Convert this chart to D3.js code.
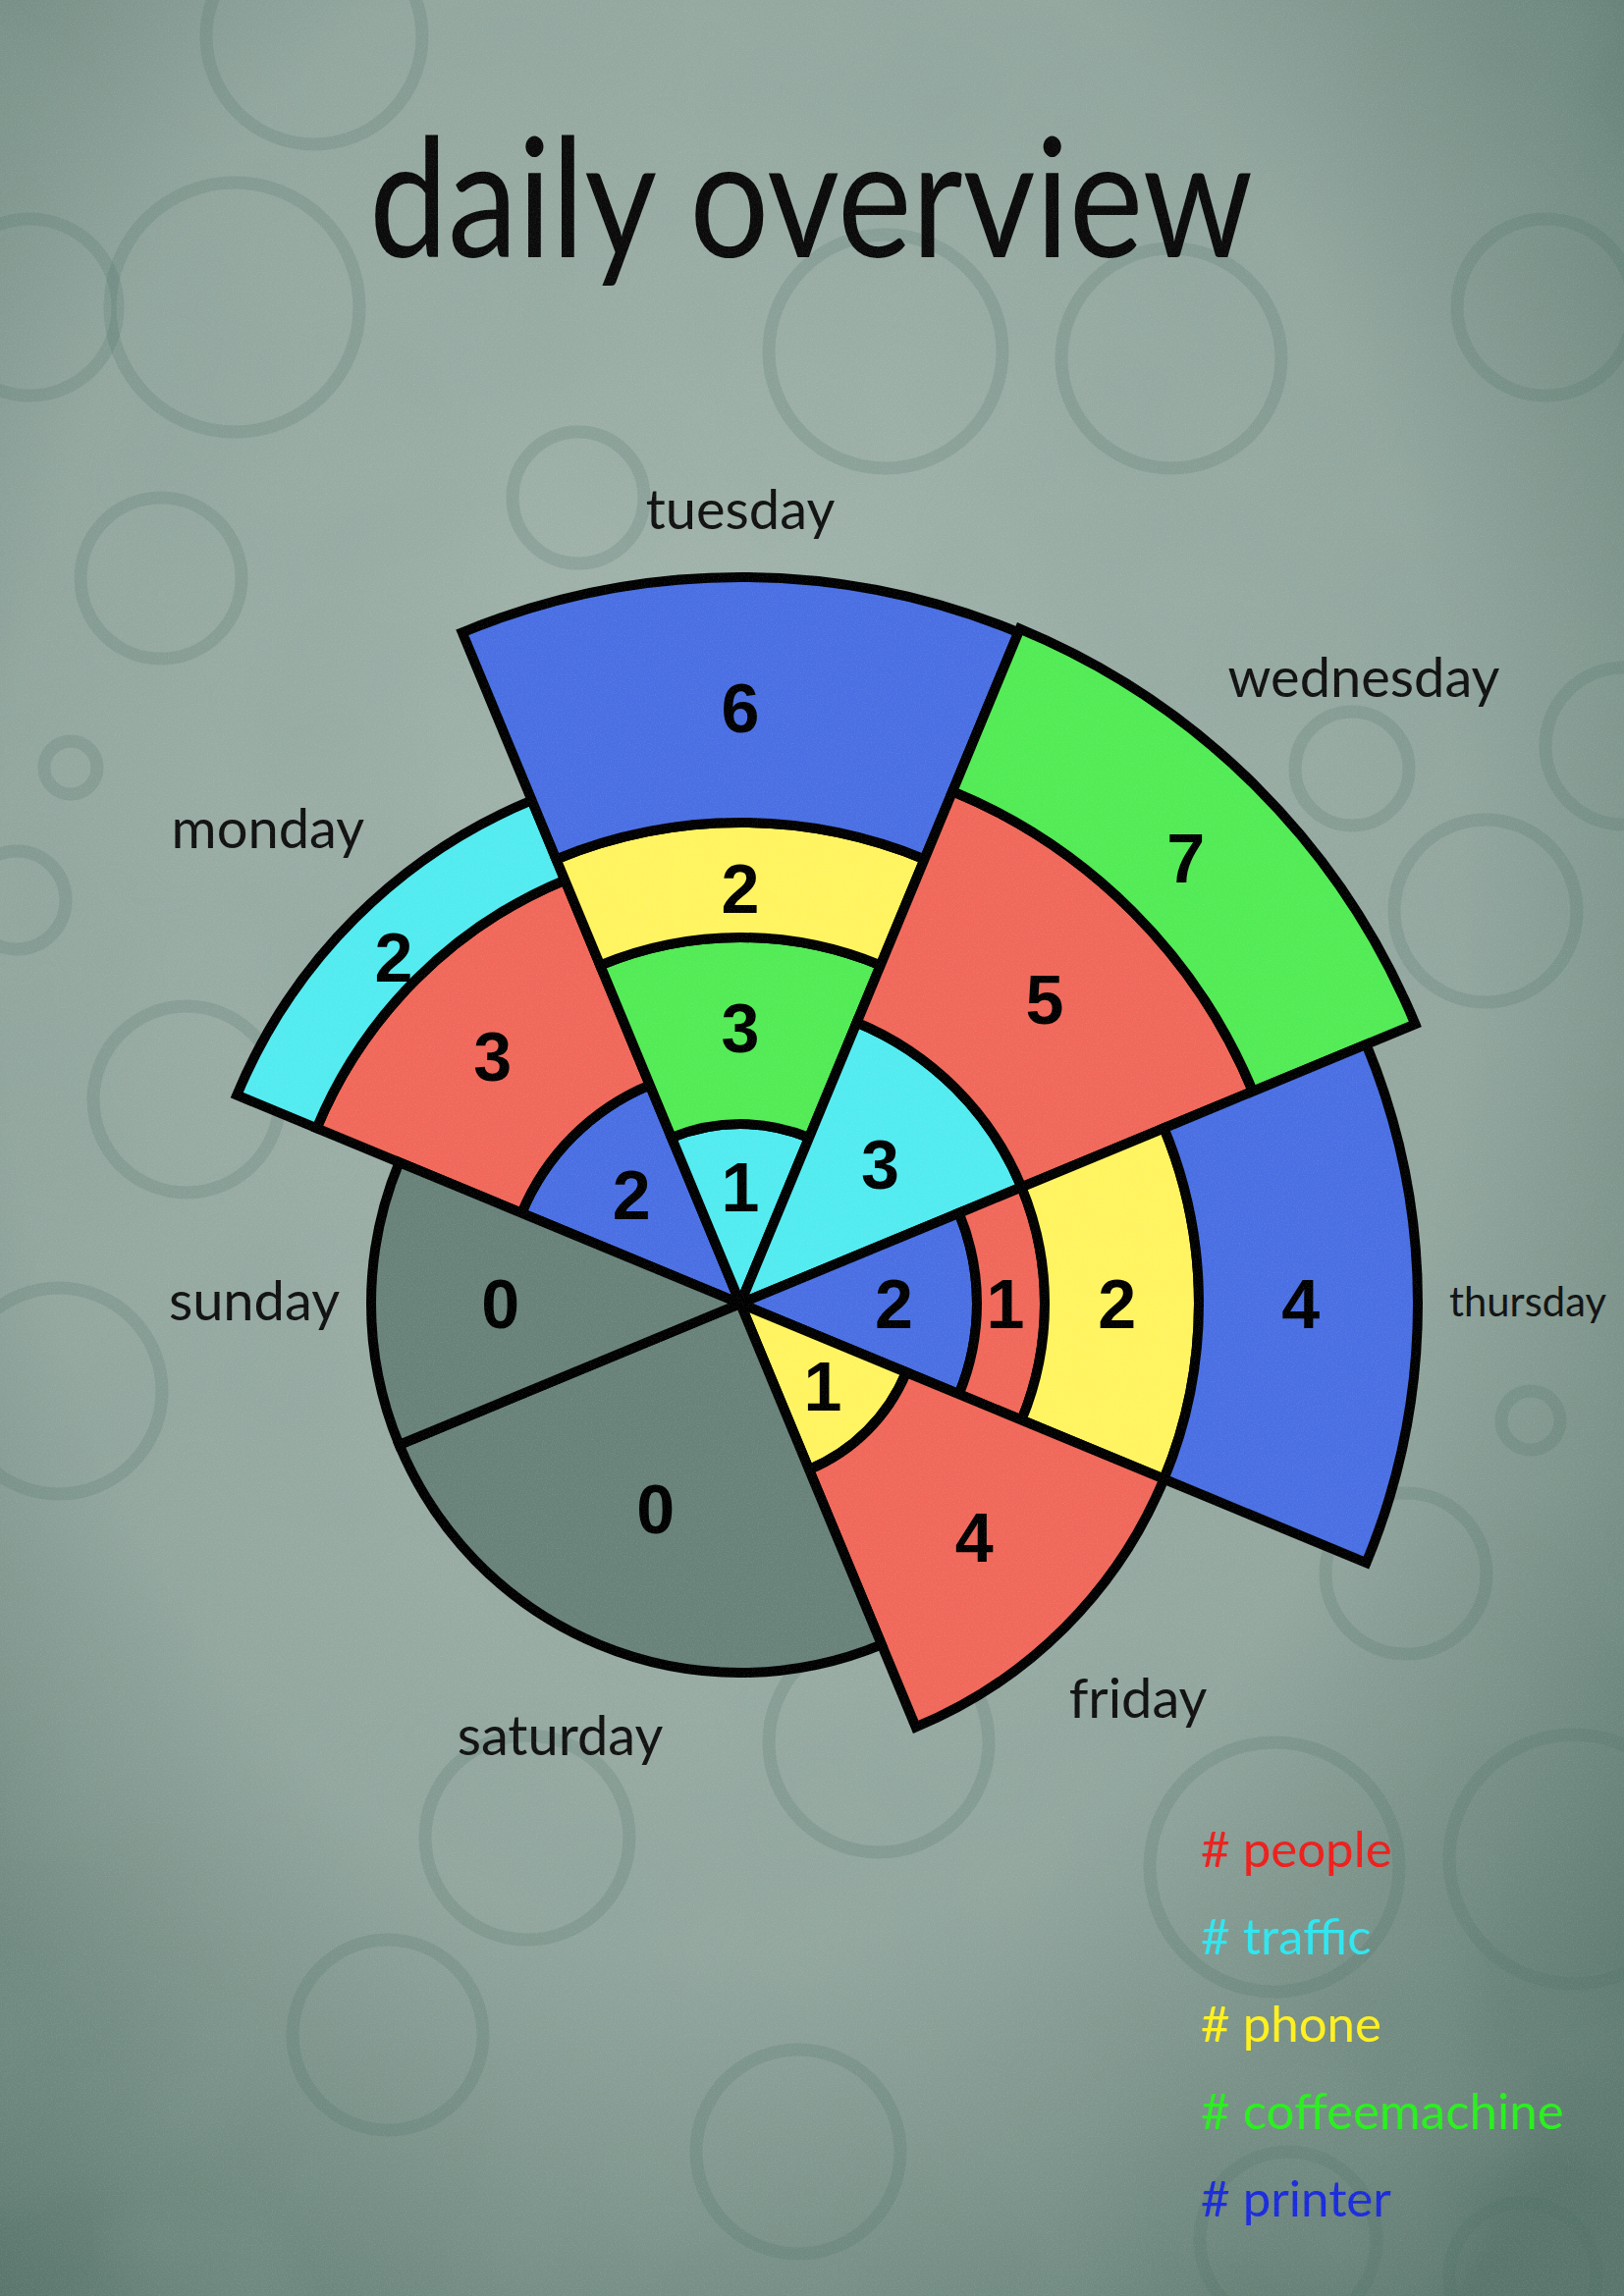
<!DOCTYPE html>
<html>
<head>
<meta charset="utf-8">
<script src="https://cdn.jsdelivr.net/npm/d3@7/dist/d3.min.js"></script>
<style>
  html, body { margin: 0; padding: 0; background: #8fa39b; }
  svg { display: block; }
</style>
</head>
<body>
<svg id="chart" width="1654" height="2339"></svg>
<script>
// ---------------- data ----------------
const title = "daily overview";
const days = ["monday", "tuesday", "wednesday", "thursday", "friday", "saturday", "sunday"];
const categories = ["people", "traffic", "phone", "coffeemachine", "printer"];
// segments of every day, listed from the centre outwards
const segmentCategories = [
  ["printer", "people", "traffic"],
  ["traffic", "coffeemachine", "phone", "printer"],
  ["traffic", "people", "coffeemachine"],
  ["printer", "people", "phone", "printer"],
  ["phone", "people"],
  [],
  []
];
const segmentValues = [
  [2, 3, 2],
  [1, 3, 2, 6],
  [3, 5, 7],
  [2, 1, 2, 4],
  [1, 4],
  [],
  []
];

// ---------------- layout / style ----------------
const W = 1654, H = 2339;
const cx = 754, cy = 1328;
const daySlots = [1, 1, 1, 1, 1, 2, 1];            // angular slots per day (saturday is drawn double wide)
const radiusStops = [0, 1, 2, 3, 4, 5, 6, 7, 8, 9, 12, 15];
const radiusRange = [0, 183, 241, 310, 373, 467, 490, 555, 565, 690, 740, 744];
const zeroRadius = 376;
const fillColor = d3.scaleOrdinal()
  .domain(categories)
  .range(["#f0685a", "#52ebf0", "#fff45f", "#52eb55", "#4a6fe3"]);
const legendColor = d3.scaleOrdinal()
  .domain(categories)
  .range(["#ec1f1c", "#2ee6f0", "#fff01e", "#29ef1e", "#1a2bdc"]);
const zeroFill = "#68827a";

const svg = d3.select("#chart");
const defs = svg.append("defs");

// background
const bg = defs.append("radialGradient").attr("id", "bg")
  .attr("cx", "45%").attr("cy", "40%").attr("r", "75%");
bg.append("stop").attr("offset", "0%").attr("stop-color", "#a6b8b0");
bg.append("stop").attr("offset", "60%").attr("stop-color", "#93a79f");
bg.append("stop").attr("offset", "100%").attr("stop-color", "#5a766c");
svg.append("rect").attr("width", W).attr("height", H).attr("fill", "url(#bg)");

const mottle = defs.append("filter").attr("id", "mottle").attr("x", 0).attr("y", 0).attr("width", "100%").attr("height", "100%");
mottle.append("feTurbulence").attr("type", "fractalNoise").attr("baseFrequency", "0.004").attr("numOctaves", 3).attr("seed", 7);
mottle.append("feColorMatrix").attr("type", "matrix")
  .attr("values", "0 0 0 0 0.25  0 0 0 0 0.36  0 0 0 0 0.32  0 0 0 -1.6 1.0");
svg.append("rect").attr("width", W).attr("height", H).attr("filter", "url(#mottle)").attr("opacity", 0.35);

// coffee-cup rings (decoration of the paper)
const rings = [
  [239, 313, 127], [902, 358, 119], [1193, 365, 112], [1574, 313, 90], [30, 313, 90], [320, 37, 110],
  [164, 589, 82], [589, 507, 67], [1377, 783, 58], [1513, 928, 93], [1654, 760, 80], [72, 782, 27],
  [17, 917, 50], [190, 1120, 95], [60, 1417, 105], [1559, 1447, 30], [1432, 1603, 82],
  [537, 1872, 104], [895, 1775, 112], [1298, 1902, 127], [1603, 1894, 127], [395, 2073, 97],
  [813, 2192, 104], [1312, 2282, 90], [1551, 2319, 75]
];
svg.append("g").selectAll("circle").data(rings).join("circle")
  .attr("cx", d => d[0]).attr("cy", d => d[1]).attr("r", d => d[2])
  .attr("fill", "none").attr("stroke", "#4b6e62").attr("stroke-opacity", 0.2).attr("stroke-width", 13);

// ---------------- scales ----------------
const r = d3.scaleLinear().domain(radiusStops).range(radiusRange);
const pie = d3.pie().sort(null).value(d => d.slots)
  .startAngle(-3 * Math.PI / 8).endAngle(2 * Math.PI - 3 * Math.PI / 8);
const dayArcs = pie(days.map((day, i) => ({ day, slots: daySlots[i], i })));
const arc = d3.arc();

function areaCentroid(r0, r1, a0, a1) {
  const half = (a1 - a0) / 2;
  const k = Math.sin(half) / half;
  const rc = (2 / 3) * (Math.pow(r1, 3) - Math.pow(r0, 3)) / (r1 * r1 - r0 * r0) * k;
  const mid = (a0 + a1) / 2;
  return [Math.sin(mid) * rc, -Math.cos(mid) * rc];
}

// ---------------- build segments ----------------
const segments = [];
dayArcs.forEach(da => {
  const i = da.data.i;
  const vals = segmentValues[i];
  if (vals.length === 0) {
    segments.push({ day: days[i], cat: null, value: 0, r0: 0, r1: zeroRadius, a0: da.startAngle, a1: da.endAngle });
  } else {
    const cum = Array.from(d3.cumsum(vals));
    vals.forEach((v, j) => {
      segments.push({
        day: days[i], cat: segmentCategories[i][j], value: v,
        r0: r(j === 0 ? 0 : cum[j - 1]), r1: r(cum[j]),
        a0: da.startAngle, a1: da.endAngle
      });
    });
  }
});

const chart = svg.append("g").attr("transform", `translate(${cx},${cy})`);
chart.selectAll("path.seg").data(segments).join("path")
  .attr("class", "seg")
  .attr("d", d => arc({ innerRadius: d.r0, outerRadius: d.r1, startAngle: d.a0, endAngle: d.a1 }))
  .attr("fill", d => d.cat ? fillColor(d.cat) : zeroFill)
  .attr("stroke", "#000").attr("stroke-width", 10).attr("stroke-linejoin", "miter");

chart.selectAll("text.val").data(segments).join("text")
  .attr("class", "val")
  .attr("transform", d => `translate(${areaCentroid(d.r0, d.r1, d.a0, d.a1)})`)
  .attr("text-anchor", "middle").attr("dy", "0.36em")
  .style("font-family", "'Liberation Sans', Arial, sans-serif")
  .style("font-weight", "bold").style("font-size", "70px").attr("fill", "#000")
  .text(d => d.value);

// ---------------- day labels ----------------
const outerOf = {};
segments.forEach(s => { outerOf[s.day] = Math.max(outerOf[s.day] || 0, s.r1); });
const labelFont = "Lato, 'Open Sans', sans-serif";
const baseSize = 56, pad = 32, vpad = 34;
const dayLabels = chart.selectAll("text.day").data(dayArcs).join("text")
  .attr("class", "day")
  .attr("text-anchor", "middle").attr("dy", "0.3em")
  .style("font-family", labelFont).style("font-size", baseSize + "px").attr("fill", "#111")
  .text(d => d.data.day);
dayLabels.each(function (d) {
  const el = d3.select(this);
  let w = this.getComputedTextLength();
  const mid = (d.startAngle + d.endAngle) / 2;
  const s = Math.sin(mid), c = Math.cos(mid);
  const R = outerOf[d.data.day];
  let dist = R + pad + (w / 2) * Math.abs(s) + vpad * Math.abs(c);
  const xr = cx + dist * s + w / 2;
  if (xr > W - 18) {
    // shrink the label so that it stays on the page
    const avail = (W - 18 - cx - (R + pad + vpad * Math.abs(c)) * s) / (0.5 * Math.abs(s) * s + 0.5);
    el.style("font-size", (baseSize * avail / w) + "px");
    w = avail;
    dist = R + pad + (w / 2) * Math.abs(s) + vpad * Math.abs(c);
  }
  el.attr("x", dist * s).attr("y", -dist * c);
});

// ---------------- title ----------------
svg.append("text")
  .attr("x", 826).attr("y", 262)
  .attr("text-anchor", "middle")
  .attr("textLength", 900).attr("lengthAdjust", "spacingAndGlyphs")
  .style("font-family", labelFont).style("font-size", "168px").attr("fill", "#0a0a0a")
  .text(title);

// ---------------- legend ----------------
const legend = svg.append("g").attr("transform", "translate(1223,1902)");
legend.selectAll("text").data(categories).join("text")
  .attr("x", 0).attr("y", (d, i) => i * 89)
  .style("font-family", labelFont).style("font-size", "51px")
  .attr("fill", d => legendColor(d))
  .text(d => "# " + d);

// ---------------- paper grain ----------------
const grain = defs.append("filter").attr("id", "grain").attr("x", 0).attr("y", 0).attr("width", "100%").attr("height", "100%");
grain.append("feTurbulence").attr("type", "fractalNoise").attr("baseFrequency", "0.8").attr("numOctaves", 2).attr("seed", 3);
grain.append("feColorMatrix").attr("type", "matrix")
  .attr("values", "0 0 0 0 1  0 0 0 0 1  0 0 0 0 1  1.2 0 0 0 -0.55");
svg.append("rect").attr("width", W).attr("height", H).attr("filter", "url(#grain)")
  .attr("opacity", 0.18).style("pointer-events", "none");
</script>
</body>
</html>
